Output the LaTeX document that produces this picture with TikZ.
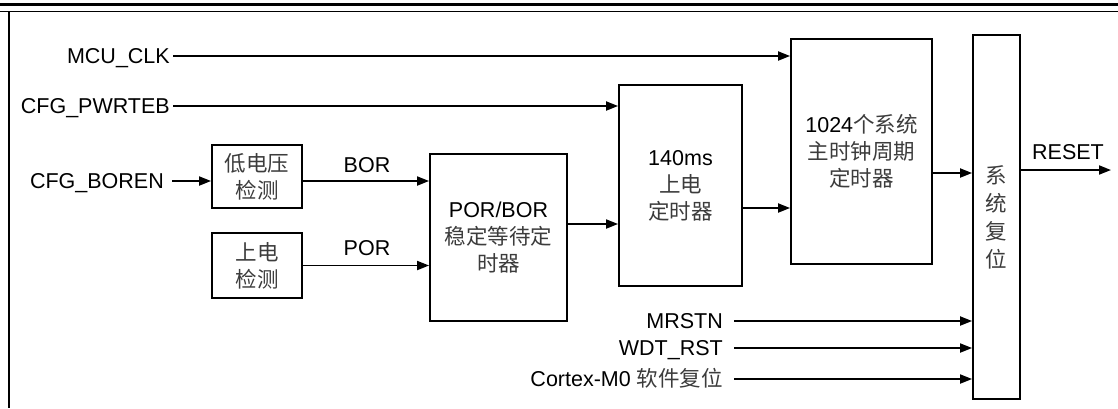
\documentclass[tikz,border=0pt]{standalone}
\usepackage{fontspec}
\setmainfont{Liberation Sans}
\newfontfamily\cjk[Color=3C3C3C]{Noto Sans CJK SC}
\usetikzlibrary{arrows.meta}
\begin{document}
\begin{tikzpicture}[x=1pt,y=-1pt,
  every node/.style={font=\fontsize{21.5}{27}\selectfont},
  blk/.style={draw,line width=1.8pt,align=center,inner sep=0pt},
  lbl/.style={inner sep=0pt,text height=15.4pt,text depth=0pt},
  arr/.style={line width=1.8pt,-{Triangle[length=12pt,width=9pt]}},
  ln/.style={line width=1.8pt}]
\useasboundingbox (0,0) rectangle (1118,408);
% frame
\draw[line width=2.7pt] (0,4.3) -- (1118,4.3);
\draw[line width=1.3pt] (0,11.8) -- (1118,11.8);
\draw[line width=2pt] (9,11.8) -- (9,408);
% blocks
\node[blk,minimum width=90pt,minimum height=63pt] (lv) at (257,176.5) {\cjk 低电压\\\cjk 检测};
\node[blk,minimum width=90pt,minimum height=65pt] (pd) at (257,265.5) {\cjk 上电\\\cjk 检测};
\node[blk,minimum width=137pt,minimum height=167pt] (pb) at (498.5,237.5) {POR/BOR\\\cjk 稳定等待定\\\cjk 时器};
\node[blk,minimum width=123pt,minimum height=201pt] (t140) at (680.5,185.5) {140ms\\\cjk 上电\\\cjk 定时器};
\node[blk,minimum width=141pt,minimum height=225pt] (t1024) at (861.5,151.5) {1024{\cjk 个系统}\\\cjk 主时钟周期\\\cjk 定时器};
\node[blk,minimum width=47pt,minimum height=364pt,font=\fontsize{21.5}{28}\selectfont] (sr) at (996.5,217) {\cjk 系\\\cjk 统\\\cjk 复\\\cjk 位};
% input labels
\node[lbl,anchor=east] (mcu) at (170,56) {MCU\_CLK};
\node[lbl,anchor=east] (pwr) at (170,106) {CFG\_PWRTEB};
\node[lbl,anchor=east] (boren) at (164,181) {CFG\_BOREN};
\node[lbl] (bor) at (367,165) {BOR};
\node[lbl] (por) at (367,248) {POR};
\node[lbl] (reset) at (1068,152) {RESET};
\node[lbl,anchor=east] (mrstn) at (723,321) {MRSTN};
\node[lbl,anchor=east] (wdt) at (723,348) {WDT\_RST};
\node[lbl,anchor=east] (ctx) at (723,379) {Cortex-M0 {\cjk 软件复位}};
\coordinate (resetend) at (1111,170);
% connectors
\draw[arr,shorten <=3pt] (mcu.east) -- (mcu.east -| t1024.west);
\draw[arr,shorten <=3pt] (pwr.east) -- (pwr.east -| t140.west);
\draw[arr,shorten <=8pt] (boren.east) -- (boren.east -| lv.west);
\draw[arr] (boren.east -| lv.east) -- (boren.east -| pb.west);
\draw[arr] (pd.east) -- (pd.east -| pb.west);
\draw[arr] ([yshift=13.5pt]pb.east) -- ([yshift=13.5pt]pb.east -| t140.west);
\draw[arr] ([yshift=-22.5pt]t140.east) -- ([yshift=-22.5pt]t140.east -| t1024.west);
\draw[arr] ([yshift=-21.5pt]t1024.east) -- ([yshift=-21.5pt]t1024.east -| sr.west);
\draw[arr] (resetend -| sr.east) -- (resetend);
\draw[arr,shorten <=11pt] (mrstn.east) -- (mrstn.east -| sr.west);
\draw[arr,shorten <=11pt] (wdt.east) -- (wdt.east -| sr.west);
\draw[arr,shorten <=11pt] (ctx.east) -- (ctx.east -| sr.west);
\end{tikzpicture}
\end{document}
